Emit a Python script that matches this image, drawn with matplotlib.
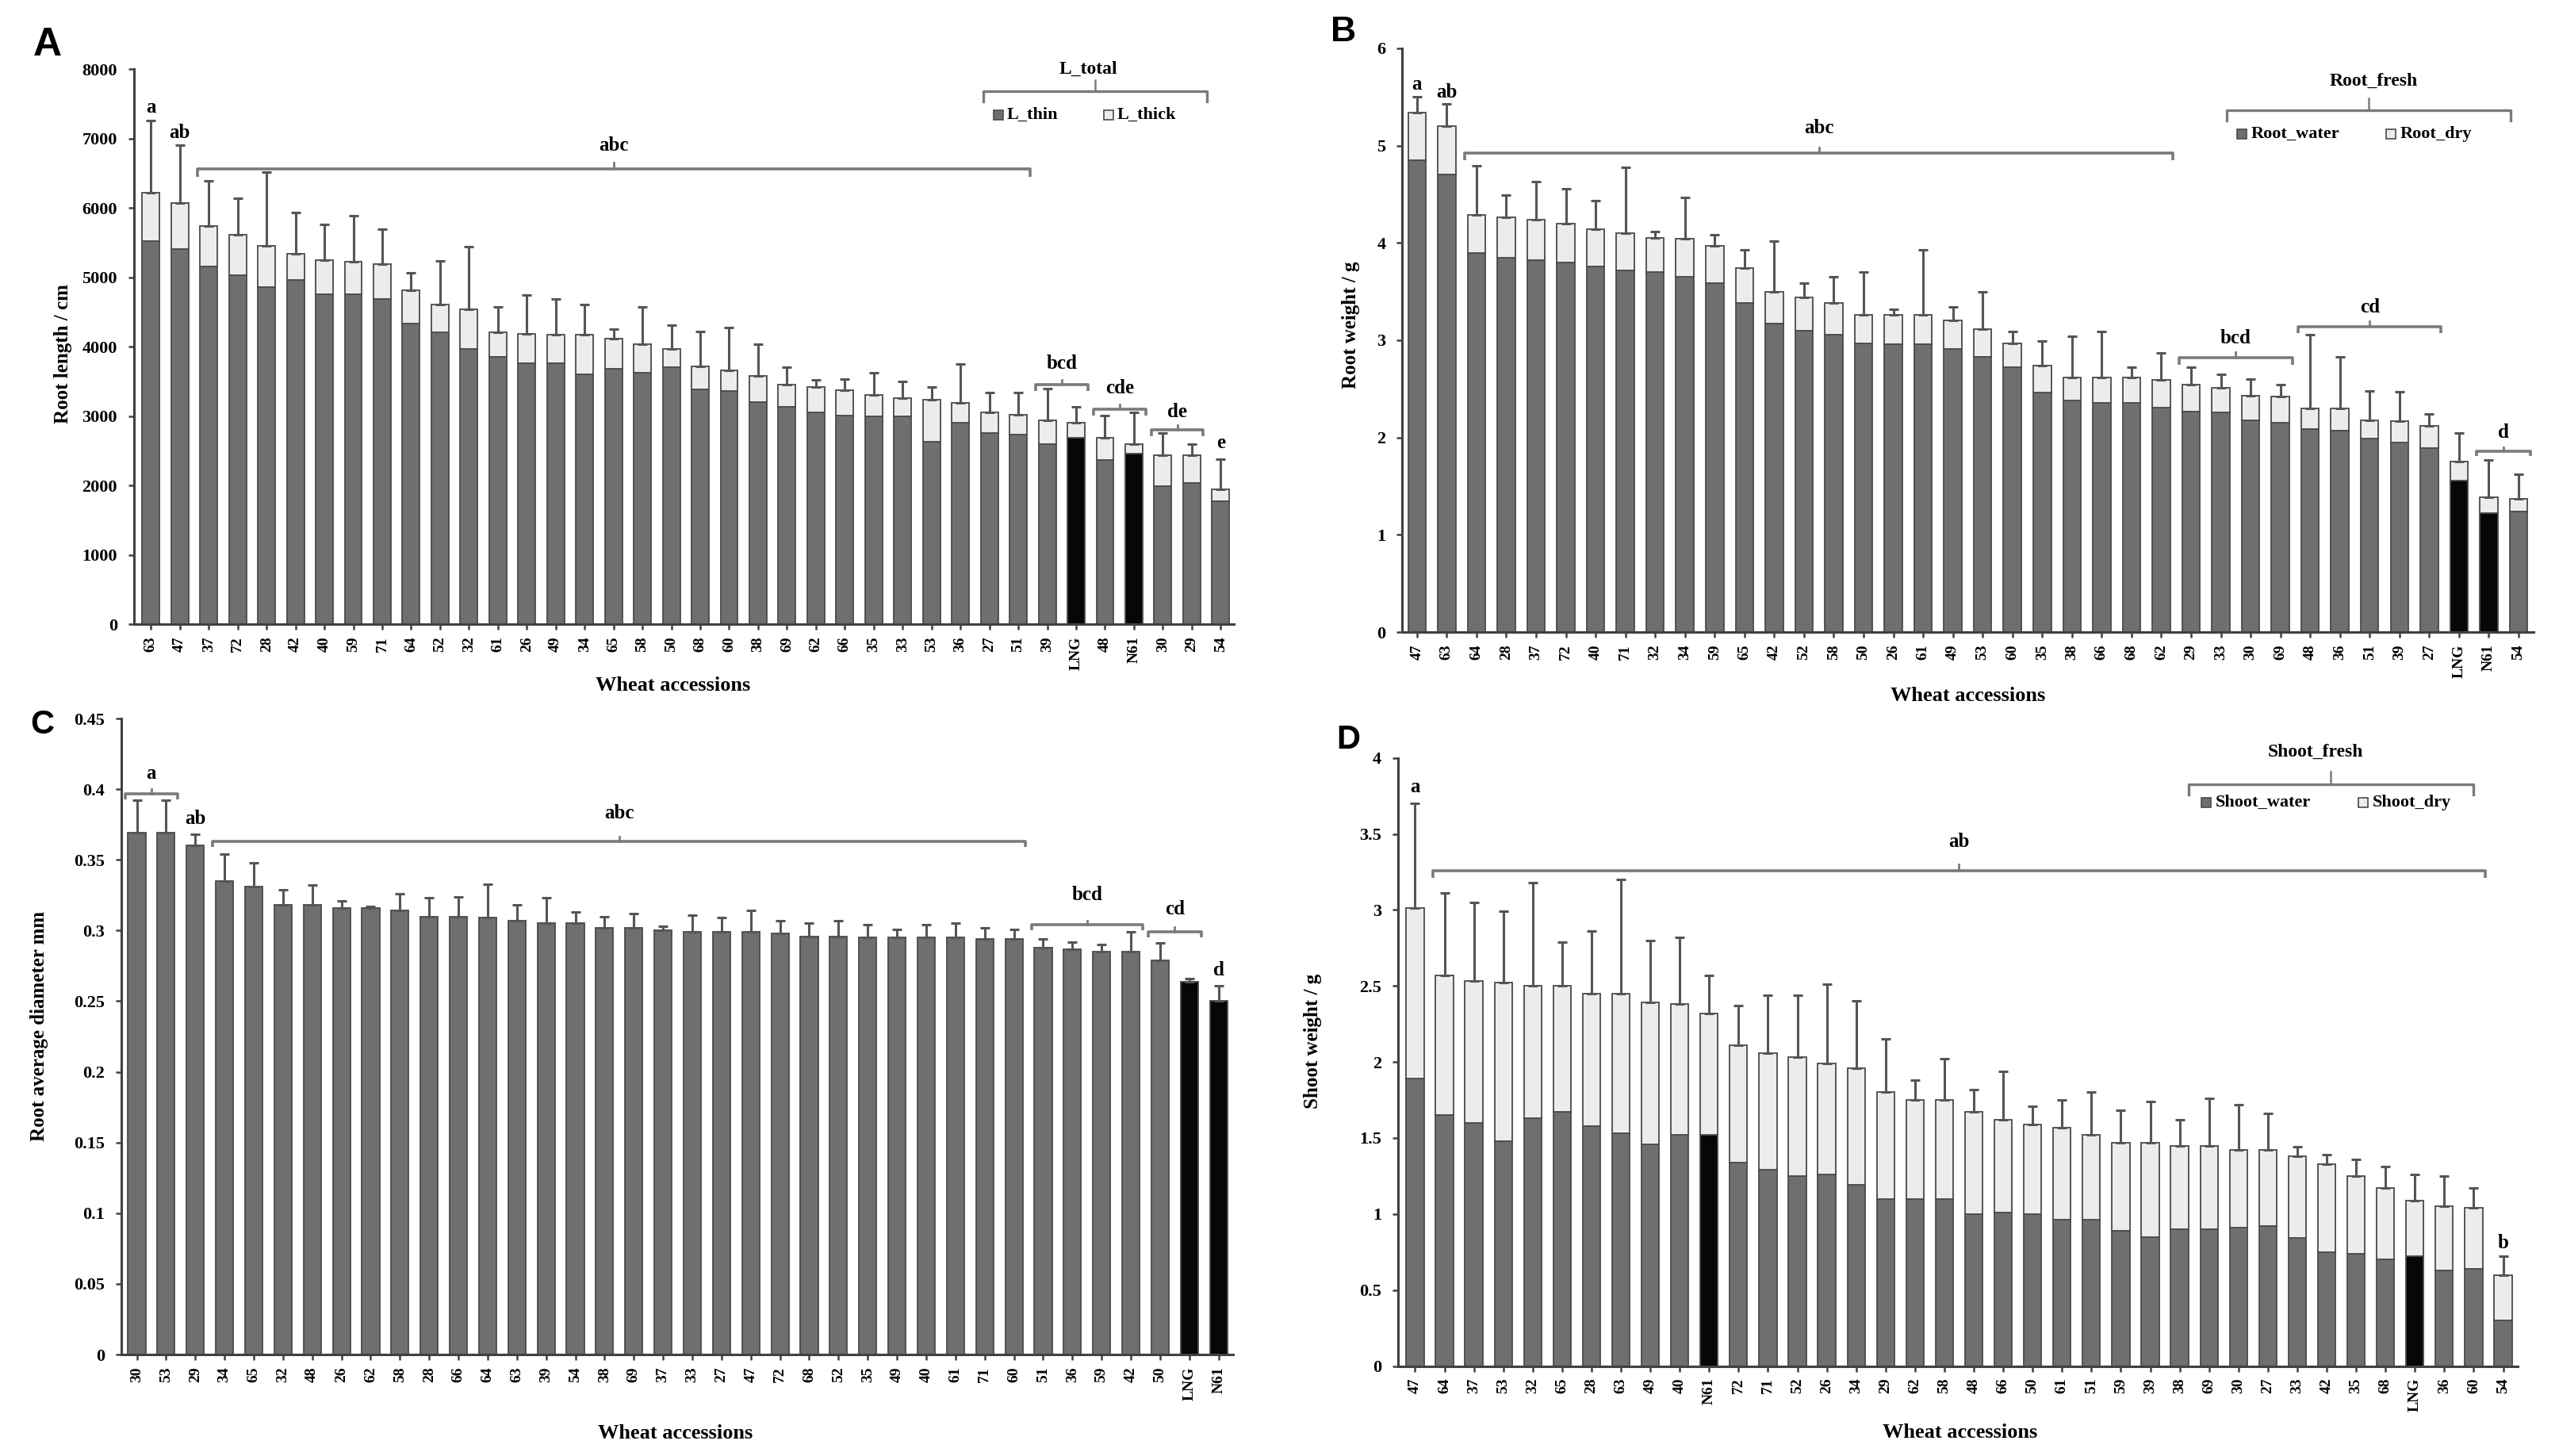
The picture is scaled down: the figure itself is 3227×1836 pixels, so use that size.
import matplotlib
matplotlib.use('Agg')
import matplotlib.pyplot as plt
import numpy as np

plt.rcParams['font.family'] = ['Liberation Serif', 'DejaVu Serif']
plt.rcParams['font.weight'] = 'bold'

# ---------------- Panel A : root length ----------------
A_labels = ['63', '47', '37', '72', '28', '42', '40', '59', '71', '64', '52', '32', '61', '26', '49', '34', '65', '58', '50',
            '68', '60', '38', '69', '62', '66', '35', '33', '53', '36', '27', '51', '39', 'LNG', '48', 'N61', '30', '29', '54']
A_thin = [5520, 5410, 5160, 5030, 4860, 4960, 4750, 4750, 4690, 4330, 4210, 3970, 3850, 3760, 3760, 3600, 3680, 3620, 3700,
          3380, 3360, 3200, 3130, 3050, 3010, 2990, 2990, 2630, 2900, 2750, 2730, 2600, 2690, 2370, 2460, 1990, 2030, 1770]
A_thick = [700, 660, 580, 580, 590, 380, 500, 470, 500, 480, 400, 570, 360, 420, 410, 570, 440, 420, 270,
           340, 300, 380, 320, 370, 360, 310, 270, 610, 290, 300, 290, 340, 210, 320, 140, 450, 410, 170]
A_sd = [1040, 830, 650, 530, 1070, 590, 510, 670, 500, 250, 620, 900, 360, 560, 520, 440, 130, 530, 340,
        500, 620, 460, 250, 100, 160, 320, 240, 180, 560, 290, 320, 450, 230, 320, 450, 320, 150, 440]

# ---------------- Panel B : root weight ----------------
B_labels = ['47', '63', '64', '28', '37', '72', '40', '71', '32', '34', '59', '65', '42', '52', '58', '50', '26', '61', '49',
            '53', '60', '35', '38', '66', '68', '62', '29', '33', '30', '69', '48', '36', '51', '39', '27', 'LNG', 'N61', '54']
B_water = [4.85, 4.70, 3.90, 3.85, 3.82, 3.80, 3.76, 3.72, 3.70, 3.65, 3.59, 3.38, 3.17, 3.10, 3.06, 2.97, 2.96, 2.96, 2.91,
           2.83, 2.72, 2.46, 2.38, 2.36, 2.36, 2.31, 2.27, 2.26, 2.18, 2.15, 2.09, 2.07, 1.99, 1.95, 1.89, 1.56, 1.22, 1.24]
B_dry = [0.49, 0.50, 0.39, 0.41, 0.42, 0.40, 0.38, 0.38, 0.35, 0.39, 0.38, 0.36, 0.33, 0.34, 0.32, 0.29, 0.30, 0.30, 0.29,
         0.28, 0.25, 0.28, 0.24, 0.26, 0.26, 0.28, 0.27, 0.25, 0.25, 0.27, 0.21, 0.23, 0.19, 0.22, 0.23, 0.19, 0.17, 0.13]
B_sd = [0.16, 0.23, 0.50, 0.23, 0.39, 0.36, 0.29, 0.68, 0.07, 0.43, 0.11, 0.19, 0.52, 0.15, 0.27, 0.44, 0.06, 0.67, 0.14,
        0.39, 0.12, 0.25, 0.42, 0.47, 0.10, 0.28, 0.18, 0.14, 0.17, 0.12, 0.76, 0.53, 0.30, 0.30, 0.12, 0.30, 0.38, 0.25]

# ---------------- Panel C : root average diameter ----------------
C_labels = ['30', '53', '29', '34', '65', '32', '48', '26', '62', '58', '28', '66', '64', '63', '39', '54', '38', '69', '37',
            '33', '27', '47', '72', '68', '52', '35', '49', '40', '61', '71', '60', '51', '36', '59', '42', '50', 'LNG', 'N61']
C_mean = [0.369, 0.369, 0.360, 0.335, 0.331, 0.318, 0.318, 0.316, 0.316, 0.314, 0.310, 0.310, 0.309, 0.307, 0.305, 0.305,
          0.302, 0.302, 0.300, 0.299, 0.299, 0.299, 0.298, 0.296, 0.296, 0.295, 0.295, 0.295, 0.295, 0.294, 0.294, 0.288,
          0.287, 0.285, 0.285, 0.279, 0.264, 0.250]
C_sd = [0.023, 0.023, 0.008, 0.019, 0.017, 0.011, 0.014, 0.005, 0.001, 0.012, 0.013, 0.014, 0.024, 0.011, 0.018, 0.008,
        0.008, 0.010, 0.003, 0.012, 0.010, 0.015, 0.009, 0.009, 0.011, 0.009, 0.006, 0.009, 0.010, 0.008, 0.007, 0.006,
        0.005, 0.005, 0.014, 0.012, 0.002, 0.011]

# ---------------- Panel D : shoot weight ----------------
D_labels = ['47', '64', '37', '53', '32', '65', '28', '63', '49', '40', 'N61', '72', '71', '52', '26', '34', '29', '62', '58',
            '48', '66', '50', '61', '51', '59', '39', '38', '69', '30', '27', '33', '42', '35', '68', 'LNG', '36', '60', '54']
D_water = [1.89, 1.65, 1.60, 1.48, 1.63, 1.67, 1.58, 1.53, 1.46, 1.52, 1.52, 1.34, 1.29, 1.25, 1.26, 1.19, 1.10, 1.10, 1.10,
           1.00, 1.01, 1.00, 0.96, 0.96, 0.89, 0.85, 0.90, 0.90, 0.91, 0.92, 0.84, 0.75, 0.74, 0.70, 0.72, 0.63, 0.64, 0.30]
D_dry = [1.12, 0.92, 0.93, 1.04, 0.87, 0.83, 0.87, 0.92, 0.93, 0.86, 0.80, 0.77, 0.77, 0.78, 0.73, 0.77, 0.70, 0.65, 0.65,
         0.67, 0.61, 0.59, 0.61, 0.56, 0.58, 0.62, 0.55, 0.55, 0.51, 0.50, 0.54, 0.58, 0.51, 0.47, 0.37, 0.42, 0.40, 0.30]
D_sd = [0.69, 0.54, 0.52, 0.47, 0.68, 0.29, 0.41, 0.75, 0.41, 0.44, 0.25, 0.26, 0.38, 0.41, 0.52, 0.44, 0.35, 0.13, 0.27,
        0.15, 0.32, 0.12, 0.18, 0.28, 0.21, 0.27, 0.17, 0.31, 0.30, 0.24, 0.06, 0.06, 0.11, 0.14, 0.17, 0.20, 0.13, 0.12]

HIGHLIGHT = ('LNG', 'N61')
DARK = '#6f6f6f'
LIGHT = '#ececec'
EDGE = '#4a4a4a'
BLACK = '#070707'
ERR = '#555555'
BRC = '#7a7a7a'
AX = '#404040'

fig = plt.figure(figsize=(32.27, 18.36), dpi=100)


def make_panel(rect, labels, low, high, sd, ylim, yticks, xlim):
    ax = fig.add_axes(rect)
    n = len(labels)
    x = np.arange(n)
    cols = [BLACK if l in HIGHLIGHT else DARK for l in labels]
    ax.bar(x, low, width=0.6, color=cols, edgecolor=EDGE, linewidth=1.3, zorder=2)
    tops = np.array(low, dtype=float)
    if high is not None:
        ax.bar(x, high, bottom=low, width=0.6, color=LIGHT, edgecolor=EDGE, linewidth=1.3, zorder=2)
        tops = tops + np.array(high, dtype=float)
    ax.errorbar(x, tops, yerr=[np.zeros(n), sd], fmt='none', ecolor=ERR,
                elinewidth=2.2, capsize=4, capthick=2.2, zorder=3)
    ax.set_xlim(*xlim)
    ax.set_ylim(*ylim)
    ax.set_yticks(yticks)
    ax.set_yticklabels(['%g' % t for t in yticks])
    ax.set_xticks(x)
    ax.set_xticklabels(labels, rotation=90)
    for s in ('top', 'right'):
        ax.spines[s].set_visible(False)
    for s in ('left', 'bottom'):
        ax.spines[s].set_color(AX)
        ax.spines[s].set_linewidth(2.2)
    ax.tick_params(axis='y', direction='out', length=5, width=1.8, color=AX, labelsize=16, pad=10)
    ax.tick_params(axis='x', direction='out', length=5, width=1.8, color=AX, labelsize=14, pad=6)
    return ax


def bracket(ax, i0, i1, y, h, text, ty, fs=18):
    x0, x1 = i0 - 0.4, i1 + 0.4
    ax.plot([x0, x0, x1, x1], [y - h, y, y, y - h], color=BRC, lw=2.6, solid_capstyle='butt', zorder=4)
    xm = (x0 + x1) / 2
    ax.plot([xm, xm], [y, y + h * 0.8], color=BRC, lw=2.0, zorder=4)
    ax.text(xm, ty, text, ha='center', va='center', fontsize=fs, fontweight='bold')


def letter(ax, i, y, text, fs=18):
    ax.text(i, y, text, ha='center', va='center', fontsize=fs, fontweight='bold')


def legend(ax, title, names, tx, ty, bx0, bx1, by, ey, mx, fs=16):
    tr = ax.transAxes
    ax.text(tx, ty, title, transform=tr, ha='center', va='center', fontsize=fs + 1, fontweight='bold')
    ax.plot([bx0, bx0, bx1, bx1], [by - 0.018, by, by, by - 0.018], transform=tr, color=BRC, lw=2.4, clip_on=False)
    bm = (bx0 + bx1) / 2
    ax.plot([bm, bm], [by, by + 0.02], transform=tr, color=BRC, lw=1.8, clip_on=False)
    for name, m, fc in zip(names, mx, (DARK, LIGHT)):
        ax.plot([m], [ey], marker='s', ms=8, mfc=fc, mec=EDGE, mew=1.2, transform=tr, clip_on=False)
        ax.text(m + 0.008, ey, name, transform=tr, ha='left', va='center', fontsize=fs, fontweight='bold')


# ---- Panel A
axA = make_panel([0.0523, 0.5713, 0.4298, 0.3813], A_labels, A_thin, A_thick, A_sd,
                 (0, 8000), list(range(0, 8001, 1000)), (-0.59, 37.45))
letter(axA, 0, 7450, 'a')
letter(axA, 1, 7080, 'ab')
bracket(axA, 2, 30, 6560, 110, 'abc', 6900)
bracket(axA, 31, 32, 3450, 90, 'bcd', 3760)
bracket(axA, 33, 34, 3100, 90, 'cde', 3400)
bracket(axA, 35, 36, 2800, 90, 'de', 3060)
letter(axA, 37, 2610, 'e')
legend(axA, 'L_total', ['L_thin', 'L_thick'], 0.868, 1.0, 0.772, 0.976, 0.960, 0.917, [0.786, 0.886])

# ---- Panel B
axB = make_panel([0.548, 0.5658, 0.442, 0.4011], B_labels, B_water, B_dry, B_sd,
                 (0, 6), list(range(0, 7)), (-0.49, 37.5))
letter(axB, 0, 5.63, 'a')
letter(axB, 1, 5.55, 'ab')
bracket(axB, 2, 25, 4.92, 0.07, 'abc', 5.18)
bracket(axB, 26, 29, 2.82, 0.07, 'bcd', 3.02)
bracket(axB, 30, 34, 3.14, 0.07, 'cd', 3.34)
bracket(axB, 36, 37, 1.86, 0.05, 'd', 2.05)
legend(axB, 'Root_fresh', ['Root_water', 'Root_dry'], 0.859, 0.944, 0.729, 0.980, 0.894, 0.853, [0.742, 0.874])

# ---- Panel C
axC = make_panel([0.0474, 0.0697, 0.4345, 0.4368], C_labels, C_mean, None, C_sd,
                 (0, 0.45), [0, 0.05, 0.1, 0.15, 0.2, 0.25, 0.3, 0.35, 0.4, 0.45], (-0.53, 37.5))
bracket(axC, 0, 1, 0.397, 0.004, 'a', 0.411)
letter(axC, 2, 0.379, 'ab')
bracket(axC, 3, 30, 0.363, 0.004, 'abc', 0.383)
bracket(axC, 31, 34, 0.304, 0.004, 'bcd', 0.325)
bracket(axC, 35, 36, 0.299, 0.004, 'cd', 0.315)
letter(axC, 37, 0.272, 'd')

# ---- Panel D
axD = make_panel([0.5463, 0.0618, 0.4376, 0.4177], D_labels, D_water, D_dry, D_sd,
                 (0, 4), [0, 0.5, 1, 1.5, 2, 2.5, 3, 3.5, 4], (-0.58, 37.5))
letter(axD, 0, 3.81, 'a')
bracket(axD, 1, 36, 3.26, 0.05, 'ab', 3.45)
letter(axD, 37, 0.81, 'b')
legend(axD, 'Shoot_fresh', ['Shoot_water', 'Shoot_dry'], 0.819, 1.01, 0.706, 0.960, 0.957, 0.927, [0.722, 0.862])

# ---- axis titles
fig.text(0.0245, 0.757, 'Root length / cm', rotation=90, ha='center', va='center', fontsize=18, fontweight='bold')
fig.text(0.528, 0.777, 'Root weight / g', rotation=90, ha='center', va='center', fontsize=18, fontweight='bold')
fig.text(0.0154, 0.2952, 'Root average diameter mm', rotation=90, ha='center', va='center', fontsize=18, fontweight='bold')
fig.text(0.513, 0.285, 'Shoot weight / g', rotation=90, ha='center', va='center', fontsize=18, fontweight='bold')
fig.text(0.263, 0.529, 'Wheat accessions', ha='center', va='center', fontsize=19, fontweight='bold')
fig.text(0.769, 0.522, 'Wheat accessions', ha='center', va='center', fontsize=19, fontweight='bold')
fig.text(0.264, 0.0153, 'Wheat accessions', ha='center', va='center', fontsize=19, fontweight='bold')
fig.text(0.766, 0.0158, 'Wheat accessions', ha='center', va='center', fontsize=19, fontweight='bold')

# ---- panel letters
for lx, ly, L, fs in [(0.0185, 0.969, 'A', 36), (0.525, 0.978, 'B', 32), (0.0166, 0.502, 'C', 30), (0.527, 0.492, 'D', 30)]:
    fig.text(lx, ly, L, ha='center', va='center', fontsize=fs, fontweight='bold', family=['Liberation Sans', 'DejaVu Sans'])

fig.savefig('out.png', dpi=100)
